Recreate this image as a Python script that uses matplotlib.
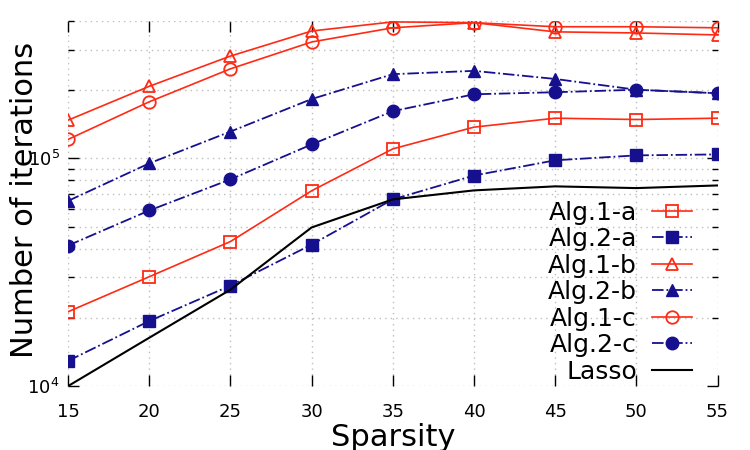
import matplotlib
matplotlib.use('Agg')
import matplotlib.pyplot as plt
from matplotlib.ticker import NullFormatter, LogLocator

sparsity = [15, 20, 25, 30, 35, 40, 45, 50, 55]

alg1_a = [2.12e4, 3.02e4, 4.31e4, 7.2e4, 1.10e5, 1.37e5, 1.50e5, 1.48e5, 1.50e5]
alg2_a = [1.29e4, 1.93e4, 2.76e4, 4.18e4, 6.6e4, 8.4e4, 9.8e4, 1.03e5, 1.04e5]
alg1_b = [1.47e5, 2.07e5, 2.81e5, 3.62e5, 3.97e5, 3.94e5, 3.59e5, 3.55e5, 3.48e5]
alg2_b = [6.5e4, 9.5e4, 1.31e5, 1.82e5, 2.34e5, 2.42e5, 2.23e5, 2.0e5, 1.93e5]
alg1_c = [1.21e5, 1.77e5, 2.47e5, 3.24e5, 3.74e5, 3.94e5, 3.78e5, 3.78e5, 3.74e5]
alg2_c = [4.14e4, 5.9e4, 8.08e4, 1.15e5, 1.61e5, 1.91e5, 1.95e5, 2.0e5, 1.93e5]
lasso = [1.0e4, 1.63e4, 2.65e4, 4.97e4, 6.6e4, 7.23e4, 7.53e4, 7.4e4, 7.6e4]

red = '#ff2a14'
blue = '#16108f'

fig = plt.figure(figsize=(7.5, 4.5), dpi=100)
ax = fig.add_axes([0.0907, 0.142, 0.866, 0.811])

ms = 8
ax.plot(sparsity, alg1_a, '-', color=red, marker='s', mfc='none', mec=red, ms=ms, lw=1.2, mew=1.3, label='Alg.1-a')
ax.plot(sparsity, alg2_a, '-.', color=blue, marker='s', mfc=blue, mec=blue, ms=ms, lw=1.3, label='Alg.2-a')
ax.plot(sparsity, alg1_b, '-', color=red, marker='^', mfc='none', mec=red, ms=ms, lw=1.2, mew=1.3, label='Alg.1-b')
ax.plot(sparsity, alg2_b, '-.', color=blue, marker='^', mfc=blue, mec=blue, ms=ms, lw=1.3, label='Alg.2-b')
ax.plot(sparsity, alg1_c, '-', color=red, marker='o', mfc='none', mec=red, ms=ms + 1, lw=1.2, mew=1.3, label='Alg.1-c')
ax.plot(sparsity, alg2_c, '-.', color=blue, marker='o', mfc=blue, mec=blue, ms=ms + 1, lw=1.3, label='Alg.2-c')
ax.plot(sparsity, lasso, '-', color='black', lw=1.5, label='Lasso')

ax.set_yscale('log')
ax.set_xlim(15, 55)
ax.set_ylim(1e4, 4e5)
ax.set_xticks(sparsity)
ax.yaxis.set_major_locator(LogLocator(base=10))
ax.yaxis.set_minor_locator(LogLocator(base=10, subs=range(2, 10)))
ax.yaxis.set_minor_formatter(NullFormatter())

for s in ax.spines.values():
    s.set_visible(False)

ax.tick_params(which='major', direction='in', length=8, width=1, top=True, right=True, labelsize=13, pad=12)
ax.tick_params(axis='y', which='major', pad=6)
ax.tick_params(which='minor', direction='in', length=4, width=1, top=False, right=True)
ax.grid(True, which='major', linestyle=(0, (1, 3)), color='#bdbdbd', lw=1.0)
ax.grid(True, which='minor', axis='y', linestyle=(0, (1, 3)), color='#bdbdbd', lw=1.0)

ax.set_xlabel('Sparsity', fontsize=22)
ax.set_ylabel('Number of iterations', fontsize=22)
ax.xaxis.set_label_coords(0.5, -0.10)
ax.yaxis.set_label_coords(-0.045, 0.51)

ax.legend(loc='lower right', bbox_to_anchor=(0.995, -0.055), frameon=False, markerfirst=False,
          fontsize=18, handlelength=1.6, labelspacing=0.1, handletextpad=0.6)

fig.savefig('out.png', dpi=100)
